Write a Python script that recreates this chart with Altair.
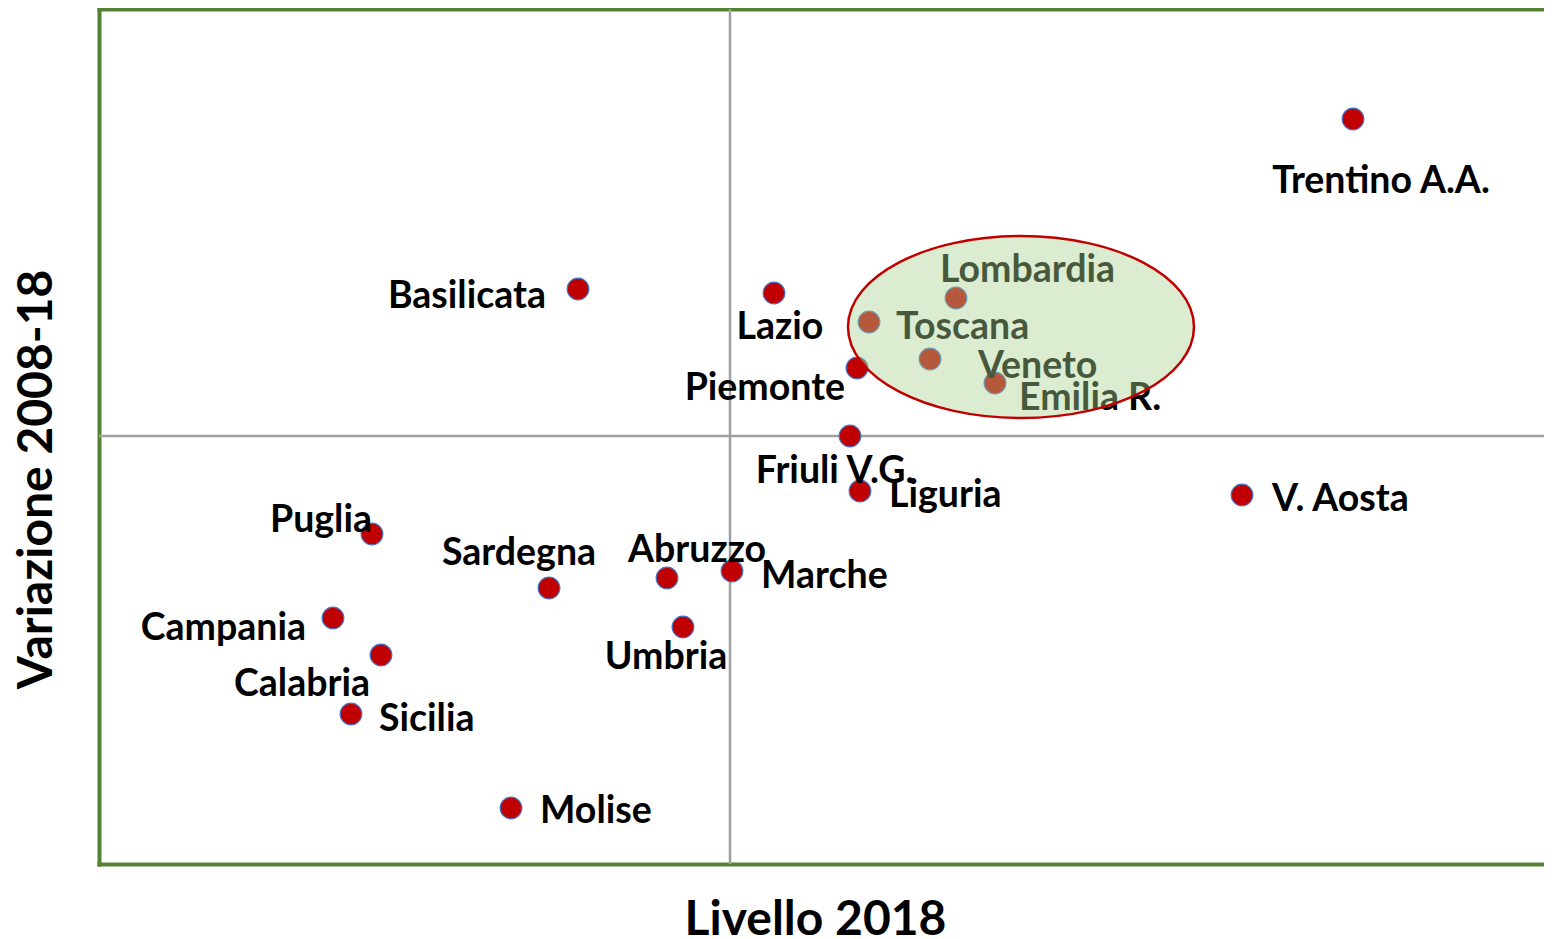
import altair as alt
import pandas as pd

# ---- data (cross of the quadrants at 0,0) ----
regioni = ["Trentino A.A.", "Basilicata", "Lazio", "Lombardia", "Toscana",
           "Veneto", "Piemonte", "Emilia R.", "Friuli V.G.", "Liguria",
           "V. Aosta", "Puglia", "Sardegna", "Abruzzo", "Marche",
           "Campania", "Umbria", "Calabria", "Sicilia", "Molise"]
livello_2018 = [62.3, -15.2, 4.4, 22.6, 13.9,
                20.0, 12.7, 26.5, 12.0, 13.0,
                51.2, -35.8, -18.1, -6.3, 0.2,
                -39.7, -4.7, -34.9, -37.9, -21.9]
variazione_2008_18 = [31.7, 14.7, 14.3, 13.8, 11.4,
                      7.7, 6.8, 5.3, 0.0, -5.5,
                      -5.9, -9.8, -15.2, -14.2, -13.5,
                      -18.2, -19.1, -21.9, -27.8, -37.2]

# highlighted group (ellipse centre)
gruppo_x = [29.1]
gruppo_y = [10.9]

# ---- label placement (style, pixels) ----
label_align = ["center", "right", "center", "left", "left",
               "left", "right", "left", "center", "left",
               "left", "right", "center", "left", "left",
               "right", "center", "right", "left", "left"]
label_dx = [28, -32, 6, -16, 27,
            48, -12, 24, -15, 29,
            30, 0, -30, -39, 29,
            -27, -17, -11, 28, 29]
label_dy = [74, 19, 46, -16, 17,
            19, 32, 27, 47, 16,
            16, -2, -23, -16, 17,
            22, 42, 41, 17, 15]

df = pd.DataFrame({"regione": regioni, "livello": livello_2018,
                   "variazione": variazione_2008_18})
df_ell = pd.DataFrame({"x": gruppo_x, "y": gruppo_y})
df_vx = pd.DataFrame({"x": [0.0]})
df_hy = pd.DataFrame({"y": [0.0]})

FONT = "Lato"
GREEN = "#548235"
xs = alt.Scale(domain=[-63.1, 81.4], nice=False, zero=False)
ys = alt.Scale(domain=[-42.8, 42.7], nice=False, zero=False)

frame_axis = dict(domainColor=GREEN, domainWidth=4, domainCap="square",
                  ticks=False, labels=False, grid=False)

x_bottom = alt.Axis(orient="bottom", title="Livello 2018", titleFont=FONT,
                    titleFontSize=48, titleFontWeight="bold", titleColor="black",
                    titleX=716, titleY=70, titleBaseline="alphabetic",
                    titleAlign="center", **frame_axis)
x_top = alt.Axis(orient="top", title=None, **frame_axis)
y_left = alt.Axis(orient="left", title="Variazione 2008-18", titleFont=FONT,
                  titleFontSize=48, titleFontWeight="bold", titleColor="black",
                  titleX=-62, titleY=470, titleAngle=270, titleBaseline="middle",
                  titleAlign="center", **frame_axis)

vline = alt.Chart(df_vx).mark_rule(color="#A0A0A0", strokeWidth=2.5).encode(
    x=alt.X("x:Q", scale=xs, axis=x_top))
hline = alt.Chart(df_hy).mark_rule(color="#A0A0A0", strokeWidth=2.5).encode(
    y=alt.Y("y:Q", scale=ys, axis=y_left))

points = alt.Chart(df).mark_point(
    filled=True, size=470, fill="#C00000", color="#C00000", opacity=1,
    stroke="#4472C4", strokeWidth=1.2, strokeOpacity=1
).encode(
    x=alt.X("livello:Q", scale=xs, axis=x_bottom),
    y=alt.Y("variazione:Q", scale=ys, axis=None),
)

labels = []
for name, al, dx, dy in zip(regioni, label_align, label_dx, label_dy):
    labels.append(
        alt.Chart(df).transform_filter(alt.datum.regione == name).mark_text(
            align=al, baseline="alphabetic", dx=dx, dy=dy, font=FONT,
            fontSize=37.5, fontWeight="bold", color="black"
        ).encode(
            x=alt.X("livello:Q", scale=xs, axis=None),
            y=alt.Y("variazione:Q", scale=ys, axis=None),
            text="regione:N",
        )
    )

k = 0.526
c = 0.5523
ell_path = (f"M -1 0 C -1 {-c*k:.4f} {-c:.4f} {-k} 0 {-k} "
            f"C {c:.4f} {-k} 1 {-c*k:.4f} 1 0 "
            f"C 1 {c*k:.4f} {c:.4f} {k} 0 {k} "
            f"C {-c:.4f} {k} -1 {c*k:.4f} -1 0 Z")

ellipse = alt.Chart(df_ell).mark_point(
    shape=ell_path, size=346 ** 2, filled=True, color="#A9D18E",
    fill="#A9D18E", fillOpacity=0.42, stroke="#C00000", strokeWidth=2.5,
    strokeOpacity=1, opacity=1
).encode(
    x=alt.X("x:Q", scale=xs, axis=None),
    y=alt.Y("y:Q", scale=ys, axis=None),
)

chart = alt.layer(vline, hline, points, *labels, ellipse).resolve_axis(
    x="independent", y="independent"
).properties(
    width=1445, height=855,
    padding={"left": 91, "top": 1, "right": 0, "bottom": 75},
    autosize=alt.AutoSizeParams(type="none"),
).configure_view(stroke=None)

chart.save("out.html", embed_options={"renderer": "svg", "actions": False})
